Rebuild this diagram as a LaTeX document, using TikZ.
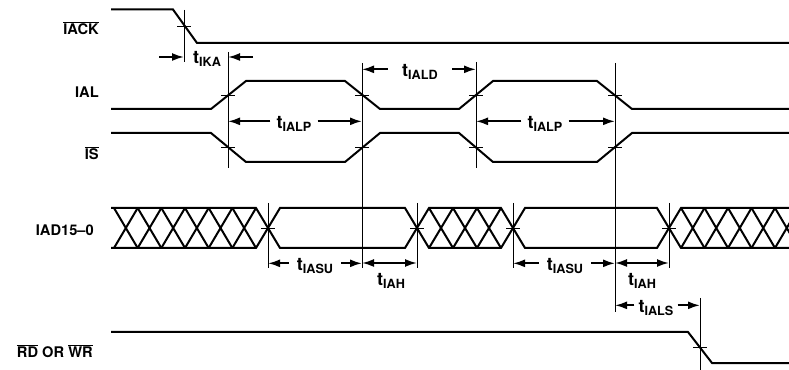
\documentclass[tikz,border=0pt]{standalone}
\usepackage{fontspec}
\setmainfont{TeX Gyre Heros}
\usetikzlibrary{arrows.meta}
\newcommand{\tsub}[1]{t\raisebox{-0.35ex}{\fontsize{9.5}{10}\selectfont #1}}
\newcommand{\ovl}[1]{$\overline{\mbox{#1}}$}
\tikzset{
  wave/.style={line width=1.5pt},
  guide/.style={line width=0.7pt},
  dim/.style={line width=1.4pt, -{Latex[length=9pt,width=6pt]}},
  dimboth/.style={line width=1.4pt, {Latex[length=9pt,width=6pt]}-{Latex[length=9pt,width=6pt]}},
  signame/.style={font=\fontsize{11}{12}\selectfont\bfseries, anchor=east, inner sep=0pt},
  tlab/.style={font=\fontsize{13.5}{14}\selectfont\bfseries, inner ysep=0pt, inner xsep=4.5pt},
}
\begin{document}
\begin{tikzpicture}[x=0.75pt,y=-0.75pt]
			\useasboundingbox (0,0) rectangle (789,370);
			% Specify the positions of the timing edges:
			\coordinate (K) at (184,0);
			\coordinate (L1) at (228,0);
			\coordinate (L2) at (362,0);
			\coordinate (L3) at (476,0);
			\coordinate (L4) at (615,0);
			\coordinate (D1) at (268,0);
			\coordinate (D2) at (417,0);
			\coordinate (D3) at (513,0);
			\coordinate (D4) at (669,0);
			\coordinate (R) at (700,0);
			% Specify the signal names:
			\node[signame] (nIACK) at (99,28) {\ovl{IACK}};
			\node[signame] (nIAL) at (99,92) {IAL};
			\node[signame] (nIS) at (99,153) {\ovl{IS}};
			\node[signame] (nIAD) at (94,230) {IAD15--0};
			\node[signame] (nRD) at (93,351) {\ovl{RD} OR \ovl{WR}};
			% Draw the waveforms:
			\draw[wave] (111,9.5) -- (173,9.5) -- (197,43) -- (789,43);
			\draw[wave] (111,109) -- (211,109) -- (246,81) -- (345,81) -- (380,109) -- (459,109) -- (493,81) -- (597,81) -- (632,109) -- (789,109);
			\draw[wave] (111,133) -- (211,133) -- (246,162) -- (345,162) -- (380,133) -- (459,133) -- (493,162) -- (597,162) -- (632,133) -- (789,133);
			\draw[wave] (111,208) -- (256,208) -- (280,248) -- (405,248) -- (429,208) -- (501,208) -- (525,248) -- (657,248) -- (681,208) -- (789,208);
			\draw[wave] (111,248) -- (256,248) -- (280,208) -- (405,208) -- (429,248) -- (501,248) -- (525,208) -- (657,208) -- (681,248) -- (789,248);
			\draw[wave] (111,332) -- (688,332) -- (712,363) -- (789,363);
			% Draw the hatching of the invalid bus:
			\begin{scope}
				\clip (111,200) rectangle (789,256);
				\foreach \i in {0,...,5}
					\draw[wave] ({114+\i*23.67},208) -- ({114+(\i+1)*23.67},248) ({114+\i*23.67},248) -- ({114+(\i+1)*23.67},208);
				\foreach \i in {0,...,2}
					\draw[wave] ({429+\i*24},208) -- ({429+(\i+1)*24},248) ({429+\i*24},248) -- ({429+(\i+1)*24},208);
				\foreach \i in {0,...,4}
					\draw[wave] ({681+\i*23.5},208) -- ({681+(\i+1)*23.5},248) ({681+\i*23.5},248) -- ({681+(\i+1)*23.5},208);
			\end{scope}
			% Draw vertical guides:
			\draw[guide] (184,10) -- (184,62);
			\draw[guide] (228,52) -- (228,168);
			\draw[guide] (362,63) -- (362,268);
			\draw[guide] (476,62) -- (476,168);
			\draw[guide] (615,63) -- (615,312);
			\draw[guide] (268,203) -- (268,268);
			\draw[guide] (417,203) -- (417,268);
			\draw[guide] (513,203) -- (513,268);
			\draw[guide] (669,203) -- (669,268);
			\draw[guide] (700,298) -- (700,370);
			% Draw ticks at the crossing points:
			\foreach \x/\y in {184/26, 228/95, 228/147, 362/95, 362/147, 476/95, 476/147, 615/95, 615/147, 268/228, 417/228, 513/228, 669/228, 700/347.5}
				\draw[guide] (\x-7,\y) -- (\x+7,\y);
			% Specify the timing labels:
			\node[tlab] (tIKA) at (207,59) {\tsub{IKA}};
			\node[tlab, inner xsep=10.5pt] (tIALD) at (420,72) {\tsub{IALD}};
			\node[tlab] (tIALP1) at (294,124) {\tsub{IALP}};
			\node[tlab] (tIALP2) at (545,124) {\tsub{IALP}};
			\node[tlab, inner xsep=6pt] (tIASU1) at (315,266) {\tsub{IASU}};
			\node[tlab, inner xsep=6pt] (tIASU2) at (565,266) {\tsub{IASU}};
			\node[tlab] (tIAH1) at (391,281) {\tsub{IAH}};
			\node[tlab] (tIAH2) at (642,281) {\tsub{IAH}};
			\node[tlab, inner xsep=3pt] (tIALS) at (656,308) {\tsub{IALS}};
			% Draw the timing arrows:
			\coordinate (IKAl) at (159,57);
			\coordinate (IKAr) at (253,57);
			\draw[dim] (IKAl) -- (IKAl -| K);
			\draw[dim] (IKAr) -- (IKAr -| L1);
			\draw[dim] ([yshift=2]tIALD.west) -- ([yshift=2]tIALD.west -| L2);
			\draw[dim] ([yshift=2]tIALD.east) -- ([yshift=2]tIALD.east -| L3);
			\draw[dim] ([yshift=2]tIALP1.west) -- ([yshift=2]tIALP1.west -| L1);
			\draw[dim] ([yshift=2]tIALP1.east) -- ([yshift=2]tIALP1.east -| L2);
			\draw[dim] ([yshift=2]tIALP2.west) -- ([yshift=2]tIALP2.west -| L3);
			\draw[dim] ([yshift=2]tIALP2.east) -- ([yshift=2]tIALP2.east -| L4);
			\draw[dim] ([yshift=2]tIASU1.west) -- ([yshift=2]tIASU1.west -| D1);
			\draw[dim] ([yshift=2]tIASU1.east) -- ([yshift=2]tIASU1.east -| L2);
			\draw[dim] ([yshift=2]tIASU2.west) -- ([yshift=2]tIASU2.west -| D3);
			\draw[dim] ([yshift=2]tIASU2.east) -- ([yshift=2]tIASU2.east -| L4);
			\coordinate (IAH1) at (362,263);
			\coordinate (IAH2) at (615,263);
			\draw[dimboth] (IAH1) -- (IAH1 -| D2);
			\draw[dimboth] (IAH2) -- (IAH2 -| D4);
			\draw[dim] ([yshift=2]tIALS.west) -- ([yshift=2]tIALS.west -| L4);
			\draw[dim] ([yshift=2]tIALS.east) -- ([yshift=2]tIALS.east -| R);
		\end{tikzpicture}
\end{document}
